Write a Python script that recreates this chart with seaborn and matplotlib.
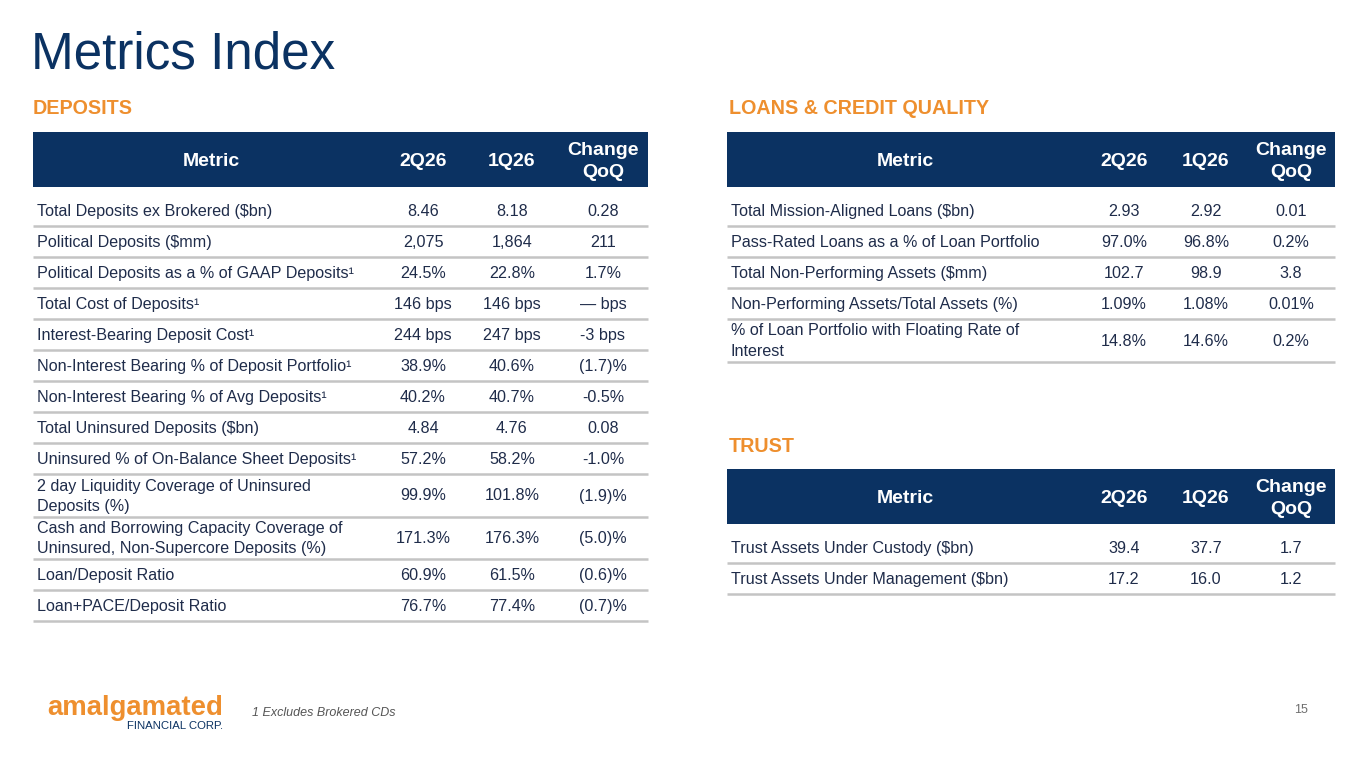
import matplotlib
matplotlib.use("Agg")
import matplotlib.pyplot as plt
import seaborn as sns

# --- data -------------------------------------------------------------
col_headers = ["Metric", "2Q26", "1Q26", "Change\nQoQ"]

deposit_metrics = [
    "Total Deposits ex Brokered ($bn)",
    "Political Deposits ($mm)",
    "Political Deposits as a % of GAAP Deposits\u00b9",
    "Total Cost of Deposits\u00b9",
    "Interest-Bearing Deposit Cost\u00b9",
    "Non-Interest Bearing % of Deposit Portfolio\u00b9",
    "Non-Interest Bearing % of Avg Deposits\u00b9",
    "Total Uninsured Deposits ($bn)",
    "Uninsured % of On-Balance Sheet Deposits\u00b9",
    "2 day Liquidity Coverage of Uninsured\nDeposits (%)",
    "Cash and Borrowing Capacity Coverage of\nUninsured, Non-Supercore Deposits (%)",
    "Loan/Deposit Ratio",
    "Loan+PACE/Deposit Ratio",
]
deposit_2q26 = ["8.46", "2,075", "24.5%", "146 bps", "244 bps", "38.9%", "40.2%",
                "4.84", "57.2%", "99.9%", "171.3%", "60.9%", "76.7%"]
deposit_1q26 = ["8.18", "1,864", "22.8%", "146 bps", "247 bps", "40.6%", "40.7%",
                "4.76", "58.2%", "101.8%", "176.3%", "61.5%", "77.4%"]
deposit_chg = ["0.28", "211", "1.7%", "\u2014 bps", "-3 bps", "(1.7)%", "-0.5%",
               "0.08", "-1.0%", "(1.9)%", "(5.0)%", "(0.6)%", "(0.7)%"]

loan_metrics = [
    "Total Mission-Aligned Loans ($bn)",
    "Pass-Rated Loans as a % of Loan Portfolio",
    "Total Non-Performing Assets ($mm)",
    "Non-Performing Assets/Total Assets (%)",
    "% of Loan Portfolio with Floating Rate of\nInterest",
]
loan_2q26 = ["2.93", "97.0%", "102.7", "1.09%", "14.8%"]
loan_1q26 = ["2.92", "96.8%", "98.9", "1.08%", "14.6%"]
loan_chg = ["0.01", "0.2%", "3.8", "0.01%", "0.2%"]

trust_metrics = ["Trust Assets Under Custody ($bn)", "Trust Assets Under Management ($bn)"]
trust_2q26 = ["39.4", "17.2"]
trust_1q26 = ["37.7", "16.0"]
trust_chg = ["1.7", "1.2"]

# --- style ------------------------------------------------------------
NAVY = "#0B3262"
TEXT = "#1F2C4A"
ORANGE = "#EE8F2E"
GRID = "#C4C4C4"

sns.set_theme(style="white")
plt.rcParams["font.family"] = ["Liberation Sans", "DejaVu Sans"]

fig = plt.figure(figsize=(13.65, 7.68), dpi=100)
ax = fig.add_axes([0, 0, 1, 1])
ax.set_xlim(0, 1365)
ax.set_ylim(768, 0)
ax.axis("off")


def put(x, y, s, **kw):
    # text placed on its baseline so rows line up regardless of glyphs
    ax.text(x, y, s, va="baseline", **kw)


def draw_table(x0, x1, top, centers, metric_x, metrics, c2, c1, cc):
    # header band
    ax.fill_between([x0, x1], top, top + 55, color=NAVY, lw=0)
    hdr = dict(color="white", fontsize=14, fontweight="bold", ha="center")
    for xc, lab in zip(centers, col_headers):
        lines = lab.split("\n")
        if len(lines) == 1:
            put(xc, top + 34, lab, **hdr)
        else:
            put(xc, top + 23, lines[0], **hdr)
            put(xc, top + 45, lines[1], **hdr)

    cell = dict(color=TEXT, fontsize=11.6)
    bottom = top + 55
    for i, (m, a, b, c) in enumerate(zip(metrics, c2, c1, cc)):
        lines = m.split("\n")
        double = len(lines) > 1
        if i == 0:
            h = 39
        else:
            h = 42.5 if double else 31
        bottom += h
        if double:
            put(metric_x, bottom - 26, lines[0], ha="left", **cell)
            put(metric_x, bottom - 6, lines[1], ha="left", **cell)
            base = bottom - 16
        else:
            put(metric_x, bottom - 10, m, ha="left", **cell)
            base = bottom - 10
        for xc, v in zip(centers[1:], [a, b, c]):
            put(xc, base, v, ha="center", **cell)
        ax.plot([x0, x1], [bottom, bottom], color=GRID, lw=1.8, solid_capstyle="butt")


# title and section labels
ax.text(31, 55, "Metrics Index", color=NAVY, fontsize=36.8, ha="left", va="center")
ax.text(33, 109, "DEPOSITS", color=ORANGE, fontsize=14.2, fontweight="bold", va="center")
ax.text(729, 109, "LOANS & CREDIT QUALITY", color=ORANGE, fontsize=14.2,
        fontweight="bold", va="center")
ax.text(729, 446, "TRUST", color=ORANGE, fontsize=14.2, fontweight="bold", va="center")

draw_table(33, 648, 132, [211, 423, 512, 603], 37,
           deposit_metrics, deposit_2q26, deposit_1q26, deposit_chg)
draw_table(727, 1335, 132, [905, 1124, 1206, 1291], 731,
           loan_metrics, loan_2q26, loan_1q26, loan_chg)
draw_table(727, 1335, 469, [905, 1124, 1206, 1291], 731,
           trust_metrics, trust_2q26, trust_1q26, trust_chg)

# footer
ax.text(47, 708, "amalgamated", color=ORANGE, fontsize=19.8, fontweight="bold",
        ha="left", va="center")
ax.text(223, 726, "FINANCIAL CORP.", color=NAVY, fontsize=8.2, ha="right", va="center")
ax.text(252, 713, "1 Excludes Brokered CDs", color="#555555", fontsize=9,
        style="italic", ha="left", va="center")
ax.text(1308, 710, "15", color="#6E6E6E", fontsize=9, ha="right", va="center")

fig.savefig("out.png", dpi=100)
